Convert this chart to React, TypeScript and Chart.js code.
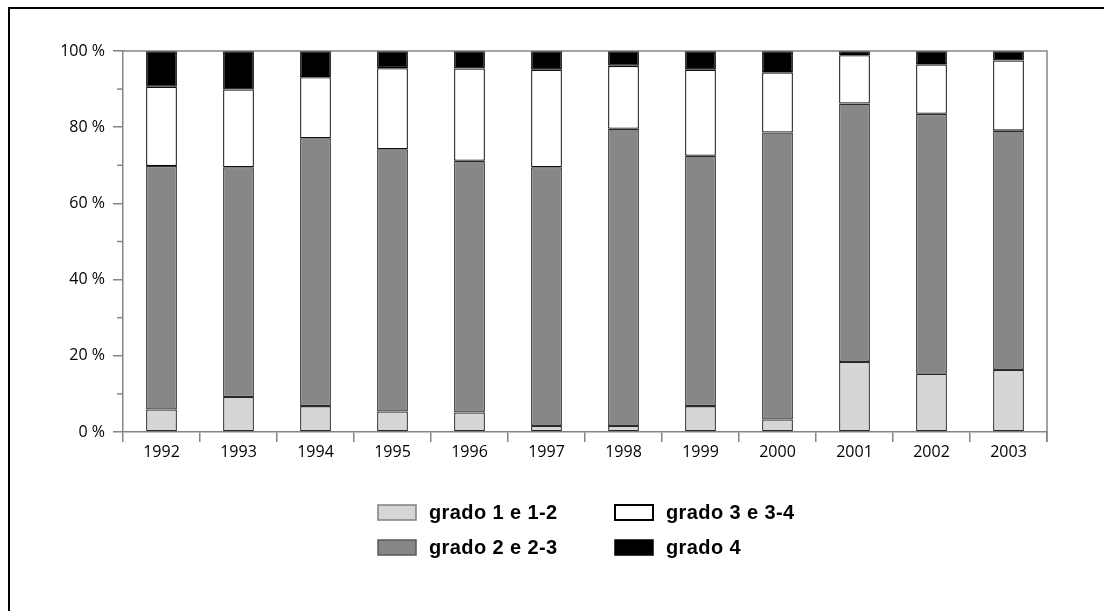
import React, { useEffect, useRef } from "react";
import { Chart, registerables } from "chart.js";

Chart.register(...registerables);

const years = ["1992", "1993", "1994", "1995", "1996", "1997", "1998", "1999", "2000", "2001", "2002", "2003"];
const grado1 = [5.9, 9.2, 6.8, 5.4, 5.1, 1.6, 1.6, 6.8, 3.3, 18.4, 15.3, 16.3];
const grado2 = [63.9, 60.3, 70.3, 68.8, 66.1, 67.9, 78.0, 65.7, 75.3, 67.8, 68.2, 62.8];
const grado3 = [20.8, 20.4, 16.0, 21.3, 24.2, 25.6, 16.5, 22.6, 15.8, 12.7, 13.0, 18.4];
const grado4 = [9.4, 10.1, 6.9, 4.5, 4.6, 4.9, 3.9, 4.9, 5.6, 1.1, 3.5, 2.5];
const seriesLabels = ["grado 1 e 1-2", "grado 2 e 2-3", "grado 3 e 3-4", "grado 4"];
const yTickValues = [0, 20, 40, 60, 80, 100];

const fills = ["#d6d6d6", "#878787", "#ffffff", "#000000"];
const edges = ["#2a2a2a", "#2a2a2a", "#111111", "#000000"];
const swatchEdges = ["#808080", "#5a5a5a", "#000000", "#000000"];
const AXIS = "#858585";

const framePlugin = {
  id: "framePlugin",
  afterDraw(chart: any) {
    const { ctx, chartArea } = chart;
    const y = chart.scales.y;
    ctx.save();
    ctx.strokeStyle = AXIS;
    ctx.lineWidth = 1.5;
    ctx.beginPath();
    ctx.moveTo(chartArea.left, chartArea.top);
    ctx.lineTo(chartArea.right, chartArea.top);
    ctx.lineTo(chartArea.right, chartArea.bottom + 10);
    ctx.stroke();
    for (let v = 10; v < 100; v += 20) {
      const py = y.getPixelForValue(v);
      ctx.beginPath();
      ctx.moveTo(chartArea.left - 6, py);
      ctx.lineTo(chartArea.left, py);
      ctx.stroke();
    }
    ctx.restore();

    const cols = [378, 615];
    const rows = [505, 540];
    const order = [
      [0, 0],
      [0, 1],
      [1, 0],
      [1, 1],
    ];
    ctx.save();
    chart.data.datasets.forEach((ds: any, i: number) => {
      const [c, r] = order[i];
      const x = cols[c];
      const top = rows[r];
      ctx.fillStyle = ds.backgroundColor;
      ctx.fillRect(x, top, 38, 15);
      ctx.strokeStyle = swatchEdges[i];
      ctx.lineWidth = i === 2 ? 2 : 1.5;
      ctx.strokeRect(x, top, 38, 15);
      ctx.fillStyle = "#000";
      ctx.font = "bold 20px 'Liberation Sans', Arial, sans-serif";
      try {
        (ctx as any).letterSpacing = "0.4px";
      } catch (e) {}
      ctx.textAlign = "left";
      ctx.textBaseline = "alphabetic";
      ctx.fillText(ds.label, x + 51, top + 14);
    });
    ctx.restore();
  },
};

export default function App() {
  const ref = useRef<HTMLCanvasElement | null>(null);

  useEffect(() => {
    if (!ref.current) return;
    const data = [grado1, grado2, grado3, grado4];
    const chart = new Chart(ref.current, {
      type: "bar",
      data: {
        labels: years,
        datasets: data.map((d, i) => ({
          label: seriesLabels[i],
          data: d,
          backgroundColor: fills[i],
          borderColor: edges[i],
          borderWidth: 1.3,
          borderSkipped: false,
          barPercentage: 0.4,
          categoryPercentage: 1.0,
        })),
      },
      options: {
        animation: false,
        responsive: false,
        devicePixelRatio: 1,
        layout: { padding: { left: 0, top: 51, right: 57, bottom: 139 } },
        plugins: {
          legend: { display: false },
          tooltip: { enabled: false },
        },
        scales: {
          x: {
            stacked: true,
            offset: true,
            afterFit(scale: any) {
              scale.height = 40;
            },
            grid: {
              offset: true,
              drawOnChartArea: false,
              drawTicks: true,
              tickLength: 10,
              color: AXIS,
              lineWidth: 1.5,
            },
            border: { display: true, color: AXIS, width: 1.5 },
            ticks: {
              color: "#000",
              font: { family: "'Open Sans', sans-serif", size: 16 },
              padding: 1,
              maxRotation: 0,
              autoSkip: false,
            },
          },
          y: {
            stacked: true,
            min: 0,
            max: 100,
            afterFit(scale: any) {
              scale.width = 123;
            },
            afterBuildTicks(scale: any) {
              scale.ticks = yTickValues.map((v) => ({ value: v }));
            },
            grid: {
              drawOnChartArea: false,
              drawTicks: true,
              tickLength: 10,
              color: AXIS,
              lineWidth: 1.5,
            },
            border: { display: true, color: AXIS, width: 1.5 },
            ticks: {
              color: "#000",
              font: { family: "'Open Sans', sans-serif", size: 16 },
              padding: 8,
              callback: (v: any) => v + " %",
            },
          },
        },
      },
      plugins: [framePlugin],
    });
    return () => chart.destroy();
  }, []);

  return (
    <>
      <div
        style={{
          position: "fixed",
          left: 8,
          top: 7,
          right: 0,
          bottom: 0,
          borderLeft: "2px solid #000",
          borderTop: "2px solid #000",
          background: "#fff",
        }}
      />
      <div style={{ position: "fixed", left: 0, top: 0, width: 1104, height: 611 }}>
        <canvas ref={ref} width={1104} height={611} style={{ width: 1104, height: 611, display: "block" }} />
      </div>
    </>
  );
}
